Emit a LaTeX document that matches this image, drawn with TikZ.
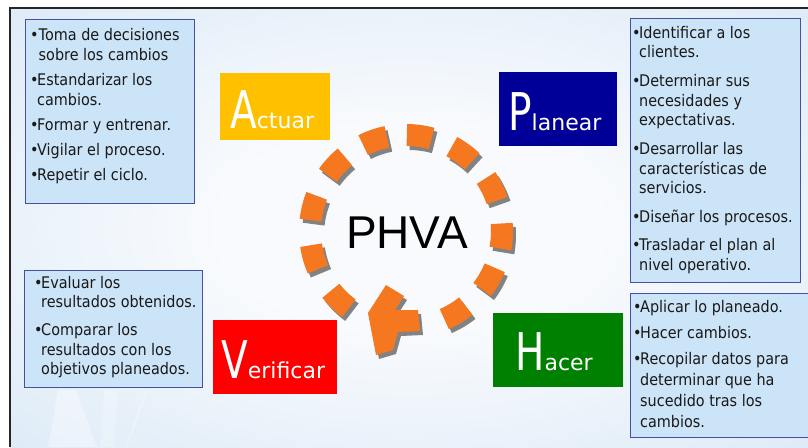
\documentclass[tikz,border=0pt]{standalone}
\usepackage{fontspec}
\usepackage{graphicx}
\setmainfont{DejaVu Sans}
\newfontfamily\listfont{DejaVu Sans}[FakeStretch=0.9]
\newfontfamily\phvafont{Liberation Sans}
\usetikzlibrary{calc}
\definecolor{bgedge}{RGB}{206,226,243}
\definecolor{bgmid}{RGB}{248,250,253}
\definecolor{tfill}{RGB}{204,228,248}
\definecolor{tline}{RGB}{70,80,160}
\definecolor{ttext}{RGB}{25,25,25}
\definecolor{cA}{RGB}{255,192,0}
\definecolor{cP}{RGB}{0,0,153}
\definecolor{cV}{RGB}{255,0,0}
\definecolor{cH}{RGB}{0,128,0}
\definecolor{orng}{RGB}{245,120,32}
\definecolor{shd}{RGB}{130,130,130}
\pgfdeclareradialshading{bgsh}{\pgfpoint{0bp}{0bp}}{color(0bp)=(bgmid); color(12bp)=(bgmid); color(50bp)=(bgedge); color(75bp)=(bgedge)}
\newcommand\Ltr[1]{{\fontsize{52}{52}\selectfont\scalebox{0.75}[1]{#1}}}
\newcommand\Sml[1]{{\fontsize{22}{22}\selectfont #1}}
\newcommand\bul{\makebox[7pt][l]{•}}
\newcommand\ind{\hspace*{7pt}}
\begin{document}
\begin{tikzpicture}[x=1pt,y=-1pt,
  tbox/.style={draw=tline, fill=tfill, line width=1.2pt, inner sep=0pt, anchor=north west},
  cbox/.style={inner sep=0pt, anchor=north west},
  tlist/.style={anchor=base west, inner sep=0pt, text=ttext},
  ctext/.style={anchor=base west, inner sep=0pt, text=white},
  dashseg/.style={line width=22pt, orng},
  dashshadow/.style={line width=22pt, shd},
]
\useasboundingbox (0,0) rectangle (808,447);
\fill[white] (0,0) rectangle (808,447);
\shade[shading=bgsh] (10,8) rectangle (808,447);
% faint streaks bottom left
\fill[white, opacity=0.35] (48,447) -- (58,390) -- (76,390) -- (97,447) -- cycle;
\fill[white, opacity=0.22] (100,447) -- (104,390) -- (118,390) -- (114,447) -- cycle;
\draw[white, opacity=0.4, line width=1pt] (147,390) -- (126,447);
% frame
\draw[line width=2.5pt, black!85] (10,447) -- (10,8) -- (808,8);

% text boxes
\node[tbox, minimum width=169pt, minimum height=184pt] (tA) at (25,19) {};
\node[tbox, minimum width=170pt, minimum height=264pt] (tP) at (630,18) {};
\node[tbox, minimum width=178pt, minimum height=117pt] (tV) at (24,270) {};
\node[tbox, minimum width=178pt, minimum height=144pt] (tH) at (630,293) {};

\node[tlist, font=\listfont\fontsize{16}{20}\selectfont] (lA) at (30,40) {\parbox[t]{165pt}{%
\bul\hspace{1.5pt}Toma de decisiones\\
\ind\hspace{1.5pt}sobre los cambios\\[5pt]
\bul Estandarizar los\\
\ind cambios.\\[5pt]
\bul Formar y entrenar.\\[5pt]
\bul Vigilar el proceso.\\[5pt]
\bul Repetir el ciclo.}};

\node[tlist, font=\listfont\fontsize{16}{19.5}\selectfont] (lP) at (632,38) {\parbox[t]{168pt}{%
\bul Identificar a los\\
\ind clientes.\\[9.5pt]
\bul Determinar sus\\
\ind necesidades y\\
\ind expectativas.\\[9.5pt]
\bul Desarrollar las\\
\ind características de\\
\ind servicios.\\[9.5pt]
\bul Diseñar los procesos.\\[8.5pt]
\bul Trasladar el plan al\\
\ind nivel operativo.}};

\node[tlist, font=\listfont\fontsize{16}{19.5}\selectfont] (lV) at (34,288) {\parbox[t]{168pt}{%
\bul Evaluar los\\
\ind resultados obtenidos.\\[8.5pt]
\bul Comparar los\\
\ind resultados con los\\
\ind objetivos planeados.}};

\node[tlist, font=\listfont\fontsize{16}{21}\selectfont] (lH) at (633,312) {\parbox[t]{172pt}{%
\bul Aplicar lo planeado.\\[5pt]
\bul Hacer cambios.\\[5pt]
\bul Recopilar datos para\\
\ind determinar que ha\\
\ind sucedido tras los\\
\ind cambios.}};

% coloured boxes
\node[cbox, fill=cA, minimum width=110pt, minimum height=67pt] (bA) at (220,73) {};
\node[cbox, fill=cP, minimum width=118pt, minimum height=74pt] (bP) at (499,72) {};
\node[cbox, fill=cV, minimum width=124pt, minimum height=74pt] (bV) at (213,320) {};
\node[cbox, fill=cH, minimum width=130pt, minimum height=74pt] (bH) at (493,313) {};
\node[ctext] (xA) at (230,128) {\Ltr{A}\Sml{ctuar}};
\node[ctext] (xP) at (508,130) {\Ltr{P}\Sml{lanear}};
\node[ctext] (xV) at (221,378) {\Ltr{V}\Sml{erificar}};
\node[ctext] (xH) at (515,370) {\Ltr{H}\Sml{acer}};

% cycle
\coordinate (C) at (406,231);
\foreach \t in {166,137,109,82,54,26,-3,-30,-59,-134,-164} {
  \draw[dashshadow] ($(C)+(3,4)+({-\t-7.5}:96)$) arc[start angle={-\t-7.5}, end angle={-\t+7.5}, radius=96];
}
\foreach \t in {166,137,109,82,54,26,-3,-30,-59,-134,-164} {
  \draw[dashseg] ($(C)+({-\t-7.5}:96)$) arc[start angle={-\t-7.5}, end angle={-\t+7.5}, radius=96];
}
\begin{scope}[shift={(3,4)}]
\fill[shd] (368,313) -- (386,285) -- (404,296) -- (395,310) -- (418,310) -- (420,331) -- (398,332) -- (393,350) -- (376,355) -- cycle;
\end{scope}
\fill[orng] (368,313) -- (386,285) -- (404,296) -- (395,310) -- (418,310) -- (420,331) -- (398,332) -- (393,350) -- (376,355) -- cycle;

\node[font=\phvafont\fontsize{46}{46}\selectfont, text=black] (phva) at (407,233) {PHVA};
\end{tikzpicture}
\end{document}
